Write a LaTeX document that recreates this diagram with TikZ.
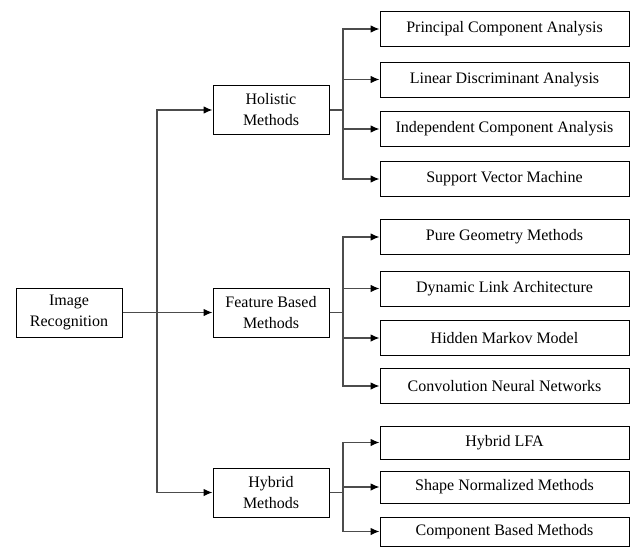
\documentclass[tikz,border=0pt]{standalone}
\usepackage{fontspec}
\setmainfont{Liberation Serif}
\usetikzlibrary{arrows.meta}
\begin{document}
\begin{tikzpicture}[x=1pt,y=-1pt,
        box/.style={draw,line width=1pt,align=center,inner sep=0pt,
            font=\fontsize{16}{21}\selectfont},
        mid/.style={box,minimum width=116pt,minimum height=49pt},
        leaf/.style={box,minimum width=249pt,minimum height=35pt},
        link/.style={draw=black!70,line width=1.1pt},
        arr/.style={link,-{Latex[length=9pt,width=7.5pt,color=black]}}]
            \useasboundingbox (0,0) rectangle (631,546);

            \node[box,minimum width=106pt,minimum height=49pt] (img) at (69,312.5) {Image\\Recognition};

            \node[mid] (hol) at (271,110) {Holistic\\Methods};
            \node[mid] (feat) at (271,312.5) {Feature Based\\Methods};
            \node[mid] (hyb) at (271,492.5) {Hybrid\\Methods};

            \node[leaf] (pca) at (504.5,29) {Principal Component Analysis};
            \node[leaf] (lda) at (504.5,79.5) {Linear Discriminant Analysis};
            \node[leaf] (ica) at (504.5,129) {Independent Component Analysis};
            \node[leaf] (svm) at (504.5,179) {Support Vector Machine};

            \node[leaf] (pgm) at (504.5,237) {Pure Geometry Methods};
            \node[leaf] (dla) at (504.5,288.5) {Dynamic Link Architecture};
            \node[leaf] (hmm) at (504.5,338) {Hidden Markov Model};
            \node[leaf] (cnn) at (504.5,386) {Convolution Neural Networks};

            \node[leaf,minimum height=33pt] (lfa) at (504.5,442.5) {Hybrid LFA};
            \node[leaf,minimum height=32pt] (snm) at (504.5,487) {Shape Normalized Methods};
            \node[leaf,minimum height=29pt] (cbm) at (504.5,531.5) {Component Based Methods};

            % forks
            \coordinate (imgfork) at (157,312.5);
            \coordinate (holfork) at (343,110);
            \coordinate (featfork) at (343,312.5);
            \coordinate (hybfork) at (343,492.5);

            \draw[arr] (img) -- (feat);
            \draw[arr] (imgfork) |- (hol);
            \draw[arr] (imgfork) |- (hyb);

            \draw[link] (hol) -- (holfork);
            \draw[arr] (holfork) |- (pca);
            \draw[arr] (holfork) |- (lda);
            \draw[arr] (holfork) |- (ica);
            \draw[arr] (holfork) |- (svm);

            \draw[link] (feat) -- (featfork);
            \draw[arr] (featfork) |- (pgm);
            \draw[arr] (featfork) |- (dla);
            \draw[arr] (featfork) |- (hmm);
            \draw[arr] (featfork) |- (cnn);

            \draw[link] (hyb) -- (hybfork);
            \draw[arr] (hybfork) |- (lfa);
            \draw[arr] (hybfork) |- (snm);
            \draw[arr] (hybfork) |- (cbm);
        \end{tikzpicture}
\end{document}
